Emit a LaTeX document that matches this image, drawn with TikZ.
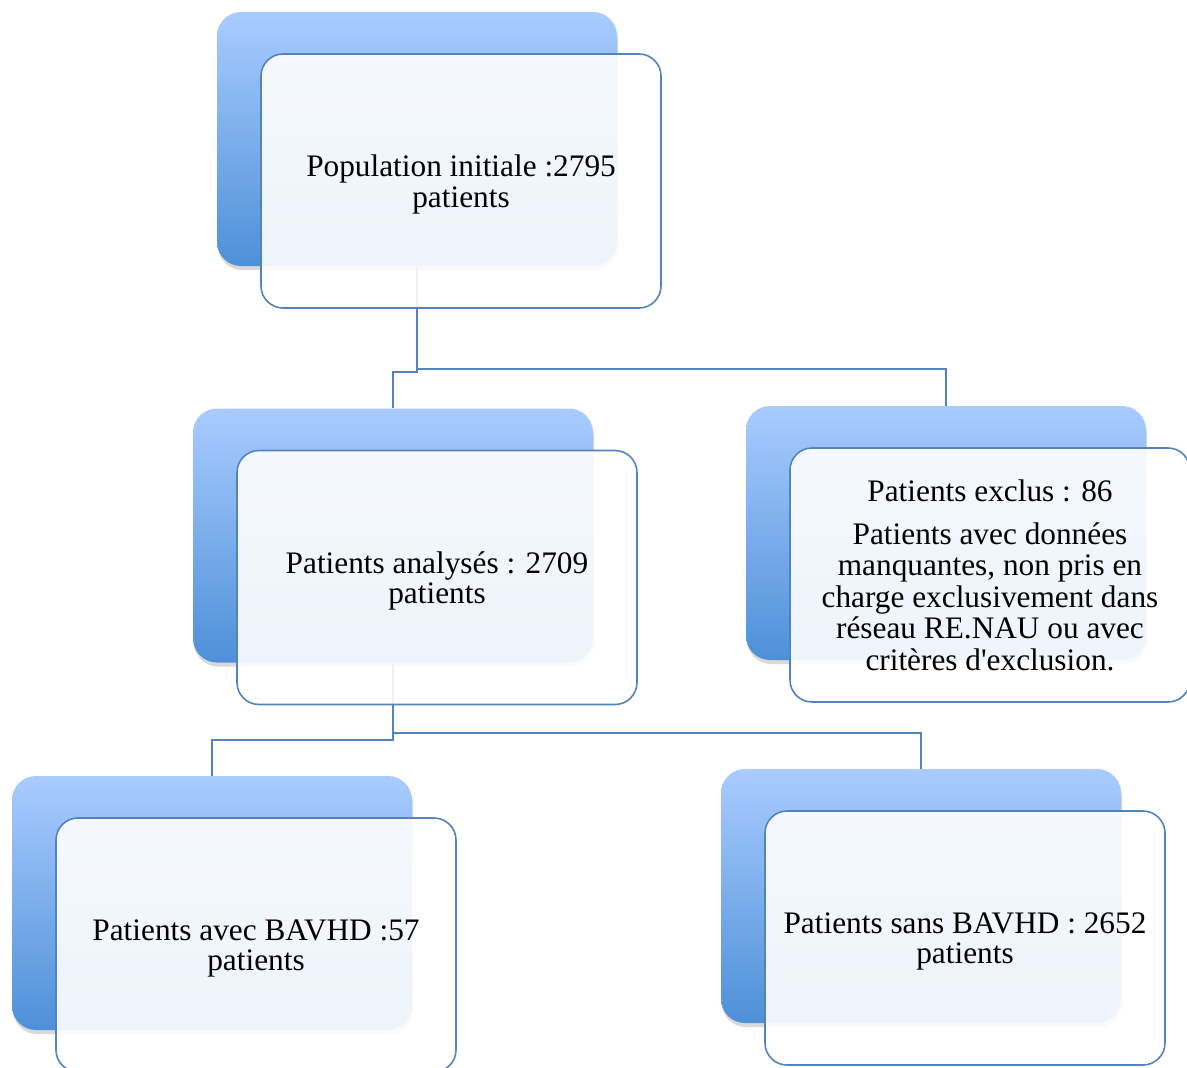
\documentclass[tikz,border=0pt]{standalone}
\usepackage{fontspec}
\setmainfont{Liberation Serif}
\usetikzlibrary{shadows,positioning,calc}

\definecolor{boxtop}{RGB}{169,204,255}
\definecolor{boxbot}{RGB}{78,144,216}
\definecolor{edgeblue}{RGB}{84,130,189}

\begin{document}
\begin{tikzpicture}
  [x=1pt,y=-1pt,
   back/.style={rectangle,rounded corners=24pt,top color=boxtop,bottom color=boxbot,
                minimum width=400pt,minimum height=254pt,inner sep=0pt,
                drop shadow={shadow xshift=1pt,shadow yshift=-4pt,opacity=0.3}},
   front/.style={rectangle,rounded corners=22pt,draw=edgeblue,line width=1.6pt,
                 fill=white,fill opacity=0.9,text opacity=1,
                 minimum width=400pt,minimum height=254pt,inner sep=0pt,text depth=0pt,
                 align=center,font=\fontsize{31.3}{30.5}\selectfont},
   link/.style={draw=edgeblue,line width=1.8pt}]
  \useasboundingbox (0,0) rectangle (1187,1068);

  % back boxes
  \node (popb)   at (417,139)   [back] {};
  \node (anab)   at (393,535.5) [back] {};
  \node (exclb)  at (946,533)   [back] {};
  \node (avecb)  at (212,903)   [back] {};
  \node (sansb)  at (921,896)   [back] {};

  % connectors
  \draw[link] (popb.south) -- ++(0,103) -| (exclb.north);
  \draw[link] (popb.south) ++(0,103) -- ++(0,3) -| (anab.north);
  \draw[link] (anab.south) -- ++(0,70) -| (sansb.north);
  \draw[link] (anab.south) ++(0,70) -- ++(0,7) -| (avecb.north);

  % front boxes
  \node (popf)  at ($(popb)+(44,42)$)  [front] {Population initiale :2795\\patients};
  \node (anaf)  at ($(anab)+(44,42)$)  [front] {Patients analysés : 2709\\patients};
  \node (exclf) at ($(exclb)+(44,42)$) [front] {Patients exclus : 86\\[12pt]Patients avec données\\[1pt]manquantes, non pris en\\[1pt]charge exclusivement dans\\[1pt]réseau RE.NAU ou avec\\[1pt]critères d\textquotesingle exclusion.};
  \node (avecf) at ($(avecb)+(44,42)$) [front] {Patients avec BAVHD :57\\patients};
  \node (sansf) at ($(sansb)+(44,42)$) [front] {Patients sans BAVHD : 2652\\patients};
\end{tikzpicture}
\end{document}
